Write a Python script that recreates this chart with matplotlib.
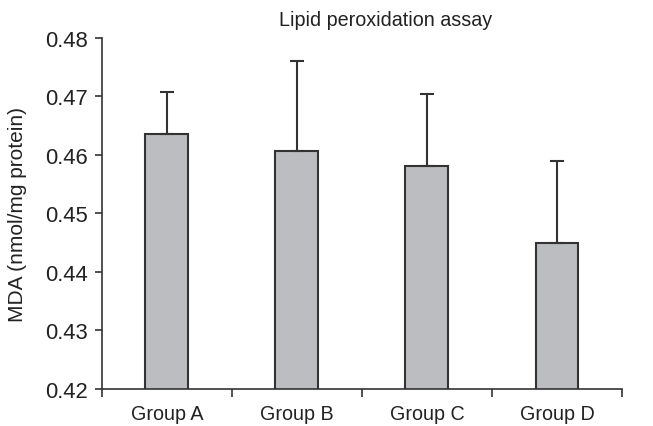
import matplotlib.pyplot as plt
import numpy as np

plt.rcParams['font.family'] = ['Liberation Sans', 'DejaVu Sans']

groups = ['Group A', 'Group B', 'Group C', 'Group D']
mda = [0.4636, 0.4607, 0.4582, 0.4449]
err = [0.0071, 0.0153, 0.0123, 0.0141]

fig = plt.figure(figsize=(6.53, 4.27), dpi=100)
ax = fig.add_axes([0.156, 0.0867, 0.7965, 0.822])

x = np.arange(len(groups))
ax.bar(x, mda, width=0.33, color='#bcbdc1', edgecolor='#333333', linewidth=1.5,
       yerr=[np.zeros(len(err)), err], error_kw=dict(ecolor='#333333', elinewidth=1.5,
                                                      capsize=5, capthick=1.5))

ax.set_xlim(-0.5, len(groups) - 0.5)
ax.set_ylim(0.42, 0.48)
ax.set_yticks(np.arange(0.42, 0.4801, 0.01))
ax.set_yticklabels([f'{v:.2f}' for v in np.arange(0.42, 0.4801, 0.01)])

# boundary ticks, labels at centres
ax.set_xticks(np.arange(-0.5, len(groups), 1.0))
ax.set_xticklabels([])
ax.set_xticks(x, minor=True)
ax.set_xticklabels(groups, minor=True)
ax.tick_params(axis='x', which='major', length=6, width=1.2, color='#333333')
ax.tick_params(axis='x', which='minor', length=0, labelsize=14.2, pad=11, labelcolor='#222222')
ax.tick_params(axis='y', length=5, width=1.2, color='#333333', labelsize=15.8, labelcolor='#222222', pad=5)

for s in ['top', 'right']:
    ax.spines[s].set_visible(False)
for s in ['left', 'bottom']:
    ax.spines[s].set_color('#333333')
    ax.spines[s].set_linewidth(1.2)

ax.set_ylabel('MDA (nmol/mg protein)', fontsize=15, color='#222222')
ax.yaxis.set_label_coords(-0.143, 0.5)
fig.text(0.591, 0.953, 'Lipid peroxidation assay', fontsize=14.2, color='#222222',
         ha='center', va='center')

fig.savefig('out.png', dpi=100)
